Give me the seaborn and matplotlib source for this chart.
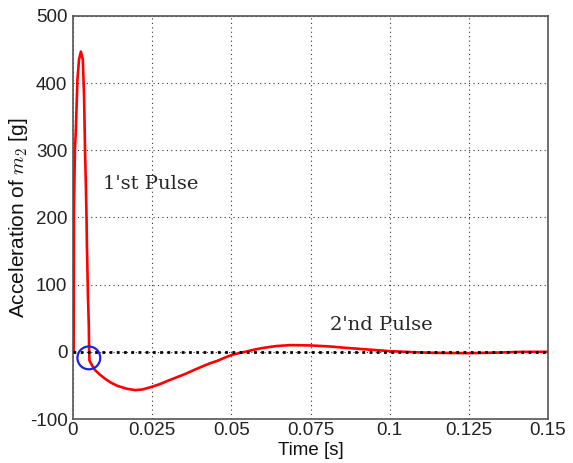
import matplotlib
matplotlib.use("Agg")
import matplotlib.pyplot as plt
import seaborn as sns
import pandas as pd

# Acceleration response of mass m2
time_s = [0.0, 0.0002, 0.0003, 0.0006, 0.0009, 0.0014, 0.0019, 0.0025, 0.0031,
          0.0035, 0.0038, 0.0041, 0.0043, 0.0044, 0.0045, 0.0047, 0.0050, 0.0051,
          0.0052, 0.0060, 0.0069, 0.0085, 0.0101, 0.0120, 0.0142, 0.0170, 0.0196,
          0.0220, 0.0249, 0.0275, 0.0300, 0.0327, 0.0354, 0.0380, 0.0407, 0.0430,
          0.0458, 0.0480, 0.0502, 0.0523, 0.0543, 0.0570, 0.0596, 0.0640, 0.0685,
          0.0750, 0.0810, 0.0860, 0.0915, 0.0960, 0.1000, 0.1050, 0.1100, 0.1150,
          0.1250, 0.1350, 0.1420, 0.1500]
accel_g = [0, 0, 210, 300, 330, 405, 435, 447, 435,
           380, 300, 241, 192, 156, 137, 88, 37, 0,
           -13, -20, -27, -34, -40, -46, -51, -55, -57,
           -56, -52, -48, -43, -38, -33, -27.5, -22, -17.5,
           -13, -8.5, -4.5, -2, 0, 3, 5.5, 8.5, 10,
           9.5, 8, 6, 4, 2.5, 1, 0, -1,
           -1.5, -2, -1, 0, 0]

x_ticks = [0, 0.025, 0.05, 0.075, 0.1, 0.125, 0.15]
x_tick_labels = ["0", "0.025", "0.05", "0.075", "0.1", "0.125", "0.15"]
y_ticks = [-100, 0, 100, 200, 300, 400, 500]

marker_t, marker_a = [0.0050], [-9]

df = pd.DataFrame({"t": time_s, "a": accel_g})

sns.set_style("white")
plt.rcParams["font.family"] = ["Liberation Sans", "DejaVu Sans"]
plt.rcParams["mathtext.fontset"] = "cm"
plt.rcParams["axes.unicode_minus"] = False

fig = plt.figure(figsize=(5.73, 4.63), dpi=100)
ax = fig.add_axes([73 / 573, 1 - 419 / 463, 475 / 573, 403 / 463])

sns.lineplot(data=df, x="t", y="a", ax=ax, color="#ff0000", linewidth=1.9,
             zorder=3, estimator=None, sort=False)

# zero reference line
ax.plot([0, 0.15], [0, 0], color="black", linestyle=(0, (1, 1.6)),
        linewidth=2.0, zorder=4)

# zero-crossing marker
ax.scatter(marker_t, marker_a, s=270, facecolors="none", edgecolors="#2020e0",
           linewidths=1.6, zorder=5)

ax.set_xlim(0, 0.15)
ax.set_ylim(-100, 500)
ax.set_xticks(x_ticks)
ax.set_xticklabels(x_tick_labels)
ax.set_yticks(y_ticks)

ax.grid(True, color="#333333", linestyle=(0, (1, 3)), linewidth=0.8)
ax.tick_params(axis="both", direction="in", length=4, labelsize=13.5,
               colors="#222222")
ax.tick_params(axis="x", pad=2)
ax.tick_params(axis="y", pad=4)
for s in ax.spines.values():
    s.set_color("#555555")
    s.set_linewidth(1.2)

ax.set_xlabel("Time [s]", fontsize=13.5, labelpad=2, color="#111111")
ax.set_ylabel("Acceleration of $m_2$ [g]", fontsize=15, labelpad=0,
              color="#111111")

ax.text(0.0095, 250, "1'st Pulse", family="DejaVu Serif", fontsize=14,
        va="center", ha="left")
ax.text(0.081, 40, "2'nd Pulse", family="DejaVu Serif", fontsize=14,
        va="center", ha="left")

fig.savefig("out.png", dpi=100)
